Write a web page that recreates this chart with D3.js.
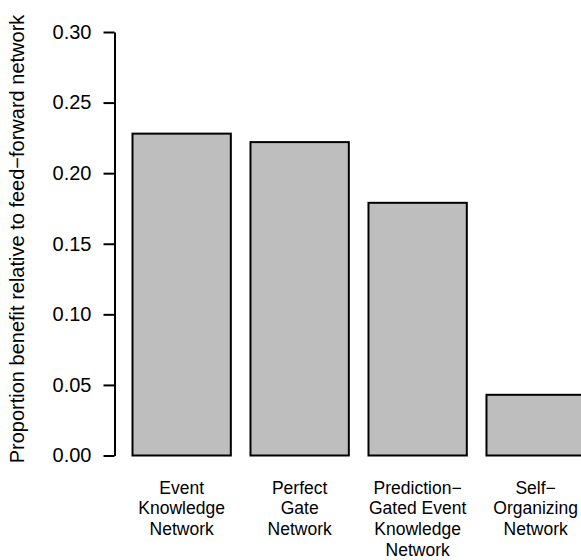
<!DOCTYPE html>
<html>
<head>
<meta charset="utf-8">
<script src="https://cdn.jsdelivr.net/npm/d3@7"></script>
<style>
    body { margin: 0; background: #fff; }
    svg { display: block; font-family: "Liberation Sans", Arial, Helvetica, sans-serif; }
</style>
</head>
<body>
<div id="chart"></div>
<script>
// Data
let categories = ["Event Knowledge Network", "Perfect Gate Network",
    "Prediction−Gated Event Knowledge Network", "Self−Organizing Network"];
let nameLines = [
    ["Event", "Knowledge", "Network"],
    ["Perfect", "Gate", "Network"],
    ["Prediction−", "Gated Event", "Knowledge", "Network"],
    ["Self−", "Organizing", "Network"]
];
let benefit = [0.228, 0.222, 0.179, 0.043];
let yTicks = [0, 0.05, 0.10, 0.15, 0.20, 0.25, 0.30];
let yLabel = "Proportion benefit relative to feed−forward network";

let width = 581, height = 560;

let svg = d3.select("#chart").append("svg")
    .attr("width", width)
    .attr("height", height);

// Scales
let x = d3.scaleBand()
    .domain(categories)
    .range([132.5, 584.8])
    .paddingInner(0.2 / 1.2)
    .paddingOuter(0);

let y = d3.scaleLinear()
    .domain([0, 0.30])
    .range([455.5, 32]);

// Bars
svg.selectAll(".bar")
    .data(categories)
    .enter()
    .append("rect")
    .attr("class", "bar")
    .attr("x", d => x(d))
    .attr("y", (d, i) => y(benefit[i]))
    .attr("width", x.bandwidth())
    .attr("height", (d, i) => y(0) - y(benefit[i]))
    .attr("fill", "#bebebe")
    .attr("stroke", "#000")
    .attr("stroke-width", 2);

// Y axis
let yAxis = d3.axisLeft(y)
    .tickValues(yTicks)
    .tickFormat(d3.format(".2f"))
    .tickSize(11)
    .tickSizeOuter(0)
    .tickPadding(12);

let yg = svg.append("g")
    .attr("transform", "translate(114.5,0)")
    .call(yAxis);

yg.select(".domain").attr("stroke-width", 2);
yg.selectAll(".tick line").attr("stroke-width", 2);
yg.selectAll(".tick text")
    .attr("font-size", 20)
    .attr("font-family", "Liberation Sans, Arial, Helvetica, sans-serif")
    .attr("fill", "#000");

// Category names under the bars
let names = svg.selectAll(".name")
    .data(categories)
    .enter()
    .append("text")
    .attr("class", "name")
    .attr("text-anchor", "middle")
    .attr("font-size", 17.5)
    .attr("fill", "#000");

names.selectAll("tspan")
    .data((d, i) => nameLines[i].map(t => ({t: t, c: d})))
    .enter()
    .append("tspan")
    .attr("x", d => x(d.c) + x.bandwidth() / 2)
    .attr("y", (d, j) => 493.5 + j * 20.8)
    .text(d => d.t);

// Y axis title
svg.append("text")
    .attr("transform", "translate(24," + 239 + ") rotate(-90)")
    .attr("text-anchor", "middle")
    .attr("font-size", 20)
    .attr("fill", "#000")
    .text(yLabel);
</script>
</body>
</html>
